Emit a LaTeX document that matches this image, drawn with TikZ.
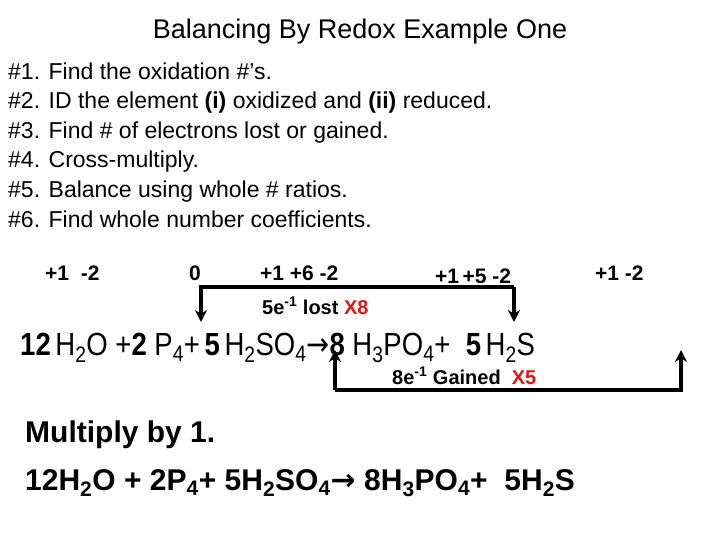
\documentclass[tikz,border=0pt]{standalone}
\usepackage{fontspec}
\setmainfont{Liberation Sans}
\newfontfamily\dejavu{DejaVu Sans}
\usepackage{graphicx}
\usetikzlibrary{arrows.meta}
\definecolor{myred}{RGB}{230,20,20}
\newcommand{\sbs}[1]{\textsubscript{#1}}
\newcommand{\sps}[1]{\textsuperscript{#1}}
\begin{document}
\begin{tikzpicture}[x=1pt,y=-1pt,
  step line/.style={line width=3.5pt,-{Stealth[length=12pt,width=12pt]}},
  ox/.style={anchor=base west,font=\fontsize{21}{21}\selectfont\bfseries,inner sep=0},
  li/.style={anchor=base west,font=\fontsize{23}{23}\selectfont,inner sep=0}]
\useasboundingbox (0,0) rectangle (720,540);
\node[inner sep=0,font=\fontsize{27}{27}\selectfont] (title) at (360,32) {Balancing By Redox Example One};
\node[li] (l1) at (8,80) {\#1. Find the oxidation \#’s.};
\node[li] (l2) at (8,109) {\#2. ID the element \textbf{(i)} oxidized and \textbf{(ii)} reduced.};
\node[li] (l3) at (8,139) {\#3. Find \# of electrons lost or gained.};
\node[li] (l4) at (8,168) {\#4. Cross-multiply.};
\node[li] (l5) at (8,197) {\#5. Balance using whole \# ratios.};
\node[li] (l6) at (8,227) {\#6. Find whole number coefficients.};
\node[ox] (o1) at (45,280) {+1\ \ -2};
\node[ox] (o2) at (189,280) {0};
\node[ox] (o3) at (260,280) {+1 +6 -2};
\node[ox] (o4) at (435,283) {+1\,+5 -2};
\node[ox] (o5) at (595,280) {+1 -2};
\node[inner sep=0,anchor=base west] (eq) at (20,355) {\scalebox{0.86}[1]{\fontsize{32}{32}\selectfont
\textbf{12}\,H\sbs{2}O +\textbf{2} P\sbs{4}+\,\textbf{5}\,H\sbs{2}SO\sbs{4}{\dejavu→}\textbf{8} H\sbs{3}PO\sbs{4}+\ \ \textbf{5}\,H\sbs{2}S}};
\coordinate (pa) at (201,322);
\coordinate (pb) at (514,322);
\coordinate (sa) at (335,350);
\coordinate (sb) at (681,350);
\draw[step line] (pb |- 0,287) -- (pb);
\draw[step line] (pb |- 0,287) -- (pa |- 0,287) -- (pa);
\draw[step line] (sa |- 0,390) -- (sa);
\draw[step line] (sa |- 0,390) -- (sb |- 0,390) -- (sb);
\node[ox,font=\fontsize{20}{20}\selectfont\bfseries] (lost) at (262,314) {5e\sps{-1} lost \textcolor{myred}{X8}};
\node[ox,font=\fontsize{20}{20}\selectfont\bfseries] (gain) at (392,384) {8e\sps{-1} Gained\ \ \textcolor{myred}{X5}};
\node[inner sep=0,anchor=base west,font=\fontsize{30}{30}\selectfont\bfseries] (mul) at (25,442) {Multiply by 1.};
\node[inner sep=0,anchor=base west,font=\fontsize{30}{30}\selectfont\bfseries] (fin) at (25,490) {12H\sbs{2}O + 2P\sbs{4}+ 5H\sbs{2}SO\sbs{4}{\dejavu\bfseries→} 8H\sbs{3}PO\sbs{4}+\ \ 5H\sbs{2}S};
\end{tikzpicture}
\end{document}
